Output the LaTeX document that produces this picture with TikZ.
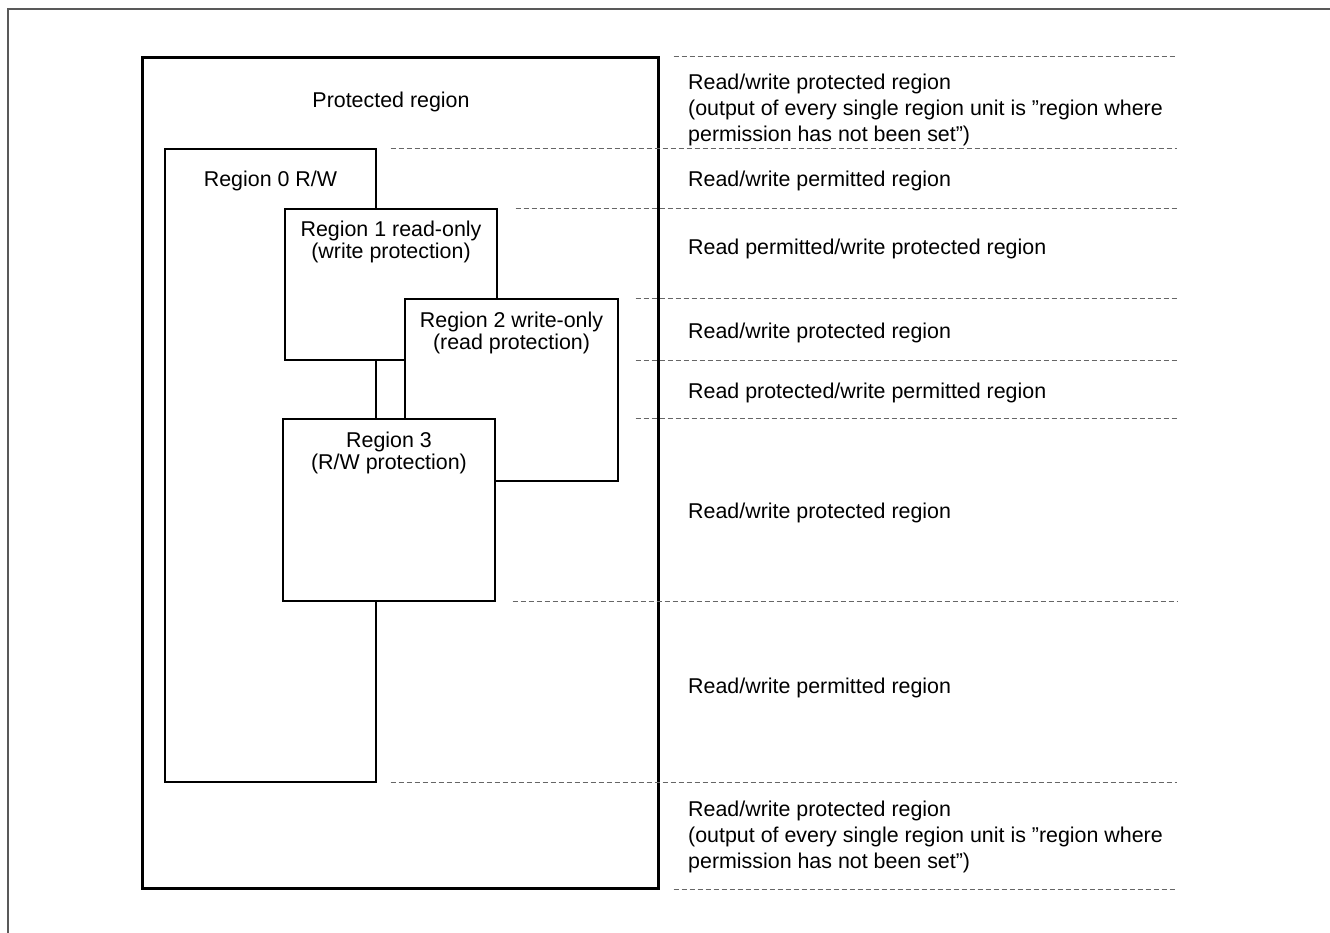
\documentclass[tikz,border=0pt]{standalone}
\usepackage{fontspec}
\setmainfont{Liberation Sans}
\usetikzlibrary{positioning}
\newcommand\regfont{\fontsize{21.4}{26}\selectfont}
\newcommand\boxfont{\fontsize{21.4}{21.5}\selectfont}
\tikzset{
  frameline/.style = {draw=black!65, line width=1.5pt},
  protbox/.style   = {draw=black, line width=3pt, inner sep=0pt},
  regbox/.style    = {draw=black, line width=1.3pt, fill=white, inner sep=0pt},
  boxtext/.style   = {font=\boxfont, align=center, inner sep=0pt},
  sidetext/.style  = {font=\regfont, align=left, anchor=west, inner sep=0pt},
  % dividers mark the address boundaries on the right
  divider/.style   = {draw=black!60, line width=1pt, dash pattern=on 5pt off 3pt},
}

\begin{document}
\begin{tikzpicture}[x=1pt, y=-1pt]
    \useasboundingbox (0,0) rectangle (1330,933);
    \draw[frameline] (8,933) -- (8,9) -- (1330,9);

    \node[protbox, minimum width=516, minimum height=830] (prot) at (400,473) {};
    \node[boxtext, font=\regfont] (protlbl) at (391,102) {Protected region};

    \node[regbox, minimum width=211, minimum height=633] (r0) at (270.5,465.5) {};
    \node[boxtext, below=22pt of r0.north] (r0lbl) {Region 0 R/W};

    \node[regbox, minimum width=212, minimum height=151] (r1) at (391,284.5) {};
    \node[boxtext, below=12.5pt of r1.north] (r1lbl) {Region 1 read-only\\(write protection)};

    \node[regbox, minimum width=213, minimum height=182] (r2) at (511.5,390) {};
    \node[boxtext, below=13.5pt of r2.north] (r2lbl) {Region 2 write-only\\(read protection)};

    \node[regbox, minimum width=212, minimum height=182] (r3) at (389,510) {};
    \node[boxtext, below=13.5pt of r3.north] (r3lbl) {Region 3\\(R/W protection)};

    \coordinate (rend) at (1177,0);
    \draw[divider] ([xshift=14pt]prot.north east) -- (prot.north east -| rend);
    \draw[divider] ([xshift=14pt]r0.north east) -- (r0.north east -| rend);
    \draw[divider] ([xshift=18pt]r1.north east) -- (r1.north east -| rend);
    \draw[divider] ([xshift=17pt]r2.north east) -- (r2.north east -| rend);
    \draw[divider] ([xshift=17pt]r2.east |- r1.south) -- (r1.south -| rend);
    \draw[divider] ([xshift=17pt]r2.east |- r3.north) -- (r3.north -| rend);
    \draw[divider] ([xshift=17pt]r3.south east) -- (r3.south east -| rend);
    \draw[divider] ([xshift=14pt]r0.south east) -- (r0.south east -| rend);
    \draw[divider] ([xshift=14pt]prot.south east) -- (prot.south east -| rend);

    \node[sidetext] (s1) at (688,109.5) {Read/write protected region\\(output of every single region unit is ”region where\\permission has not been set”)};
    \node[sidetext] (s2) at (688,181) {Read/write permitted region};
    \node[sidetext] (s3) at (688,249) {Read permitted/write protected region};
    \node[sidetext] (s4) at (688,333) {Read/write protected region};
    \node[sidetext] (s5) at (688,393) {Read protected/write permitted region};
    \node[sidetext] (s6) at (688,513) {Read/write protected region};
    \node[sidetext] (s7) at (688,688) {Read/write permitted region};
    \node[sidetext] (s8) at (688,837) {Read/write protected region\\(output of every single region unit is ”region where\\permission has not been set”)};
\end{tikzpicture}
\end{document}
